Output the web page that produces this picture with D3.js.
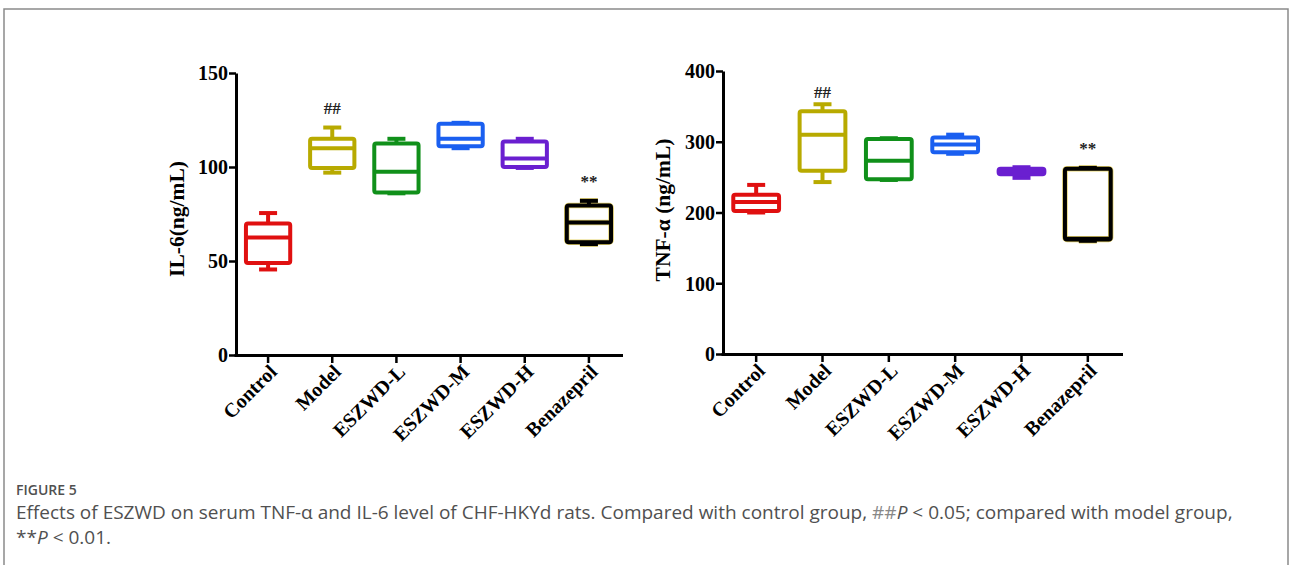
<!DOCTYPE html>
<html>
<head>
<meta charset="utf-8">
<script src="https://cdn.jsdelivr.net/npm/d3@7"></script>
<style>
	body { margin: 0; background: #fff; }
	svg { display: block; }
	.axis text { font-family: 'Liberation Serif', serif; font-weight: bold; font-size: 20px; fill: #000; }
	.axis path, .axis line { stroke: #000; }
	.caption { font-family: 'Open Sans', 'Noto Sans', sans-serif; fill: #505050; }
</style>
</head>
<body>
<svg id="fig" width="1290" height="565"></svg>
<script>
const groups = ['Control', 'Model', 'ESZWD-L', 'ESZWD-M', 'ESZWD-H', 'Benazepril'];
const colors = ['#e01010', '#b8aa00', '#10901a', '#1a5ff0', '#6a1fd0', '#000000'];

// [min, q1, median, q3, max]
const il6Box = [
	[45.5, 49, 62.5, 70, 75.5],
	[97, 99.5, 110, 115, 121],
	[86, 86.5, 97.5, 112.5, 115],
	[110, 111, 115, 123, 123.5],
	[99.5, 100, 104.5, 113.5, 115],
	[59, 60, 70.5, 79.5, 82],
];
const tnfBox = [
	[200, 202, 215, 225, 239],
	[243, 259, 310, 343, 353],
	[246, 247, 273, 304, 305],
	[283, 285, 296, 306, 310],
	[249, 254, 258.5, 262, 264],
	[160, 162, 163, 262, 263],
];
const il6Ticks = [0, 50, 100, 150];
const tnfTicks = [0, 100, 200, 300, 400];
// significance marks: group index, text, value at baseline
const il6Marks = [{ i: 1, text: '##', v: 128 }, { i: 5, text: '**', v: 89.5 }];
const tnfMarks = [{ i: 1, text: '##', v: 362 }, { i: 5, text: '**', v: 283 }];

const svg = d3.select('#fig');

// frame
svg.append('path')
	.attr('d', 'M4,570 V9 H1288 V570')
	.attr('fill', 'none')
	.attr('stroke', '#8a8a8a')
	.attr('stroke-width', 1.5);

function drawPanel(opt) {
	const x = d3.scaleBand().domain(groups).range(opt.xr);
	const y = d3.scaleLinear().domain([0, opt.max]).range(opt.yr);
	const g = svg.append('g');

	const yAxis = g.append('g')
		.attr('class', 'axis')
		.attr('transform', `translate(${opt.xr[0]},0)`)
		.call(d3.axisLeft(y).tickValues(opt.ticks).tickSize(7).tickSizeOuter(0).tickPadding(1));
	yAxis.select('.domain').attr('stroke-width', 3);
	yAxis.selectAll('.tick line').attr('stroke-width', 2.5);
	yAxis.selectAll('.tick text').attr('dy', '0.34em');

	const xAxis = g.append('g')
		.attr('class', 'axis')
		.attr('transform', `translate(0,${opt.yr[0]})`)
		.call(d3.axisBottom(x).tickSize(8).tickSizeOuter(0));
	xAxis.select('.domain').attr('stroke-width', 3).attr('d', `M${opt.xr[0] - 1.5},0.5H${opt.xr[1] + 2}`);
	xAxis.selectAll('.tick line').attr('stroke-width', 2.5);
	xAxis.selectAll('.tick text')
		.attr('y', 0)
		.attr('dy', 0)
		.attr('font-size', 20)
		.attr('text-anchor', 'end')
		.attr('transform', 'translate(10,18) rotate(-45)');

	g.append('text')
		.attr('transform', `translate(${opt.labelX},${opt.labelY}) rotate(-90)`)
		.attr('text-anchor', 'middle')
		.attr('font-family', 'Liberation Serif, serif')
		.attr('font-weight', 'bold')
		.attr('font-size', 21.5)
		.text(opt.label);

	const bw = x.bandwidth() * 0.69;
	const cap = 18;
	const boxes = g.selectAll('.box').data(opt.data).enter().append('g')
		.attr('transform', (d, i) => `translate(${x(groups[i]) + x.bandwidth() / 2},0)`);

	const drawBox = (sel, stroke, sw) => {
		sel.append('line').attr('x1', 0).attr('x2', 0).attr('y1', (d) => y(d[4])).attr('y2', (d) => y(d[3]))
			.attr('stroke', stroke).attr('stroke-width', sw);
		sel.append('line').attr('x1', 0).attr('x2', 0).attr('y1', (d) => y(d[1])).attr('y2', (d) => y(d[0]))
			.attr('stroke', stroke).attr('stroke-width', sw);
		sel.append('line').attr('x1', -cap / 2).attr('x2', cap / 2).attr('y1', (d) => y(d[4])).attr('y2', (d) => y(d[4]))
			.attr('stroke', stroke).attr('stroke-width', sw);
		sel.append('line').attr('x1', -cap / 2).attr('x2', cap / 2).attr('y1', (d) => y(d[0])).attr('y2', (d) => y(d[0]))
			.attr('stroke', stroke).attr('stroke-width', sw);
		sel.append('rect')
			.attr('x', -bw / 2).attr('width', bw)
			.attr('y', (d) => y(d[3])).attr('height', (d) => y(d[1]) - y(d[3]))
			.attr('rx', 2)
			.attr('fill', 'none').attr('stroke', stroke).attr('stroke-width', sw);
		sel.append('line').attr('x1', -bw / 2).attr('x2', bw / 2).attr('y1', (d) => y(d[2])).attr('y2', (d) => y(d[2]))
			.attr('stroke', stroke).attr('stroke-width', sw);
	};

	// yellow halo under the black box
	drawBox(boxes.filter((d, i) => i === 5), '#e6d36a', 5.5);
	boxes.each(function (d, i) {
		drawBox(d3.select(this), colors[i], 4);
	});

	g.selectAll('.mark').data(opt.marks).enter().append('text')
		.attr('x', (d) => x(groups[d.i]) + x.bandwidth() / 2)
		.attr('y', (d) => y(d.v))
		.attr('text-anchor', 'middle')
		.attr('font-family', 'Liberation Serif, serif')
		.attr('font-weight', 'bold')
		.attr('font-size', 17)
		.attr('fill', '#222')
		.text((d) => d.text);
}

drawPanel({ xr: [236, 621], yr: [355, 73], max: 150, ticks: il6Ticks, data: il6Box, marks: il6Marks, label: 'IL-6(ng/mL)', labelX: 184, labelY: 219 });
drawPanel({ xr: [723, 1121], yr: [354, 71], max: 400, ticks: tnfTicks, data: tnfBox, marks: tnfMarks, label: 'TNF-α (ng/mL)', labelX: 670, labelY: 210 });

// caption
svg.append('text').attr('class', 'caption')
	.attr('x', 16).attr('y', 495)
	.attr('font-size', 14).attr('font-weight', 600).attr('fill', '#666')
	.text('FIGURE 5');

const line1 = svg.append('text').attr('class', 'caption').attr('x', 16).attr('y', 519).attr('font-size', 19);
line1.append('tspan').text('Effects of ESZWD on serum TNF-α and IL-6 level of CHF-HKYd rats. Compared with control group, ');
line1.append('tspan').attr('fill', '#888').text('##');
line1.append('tspan').attr('font-style', 'italic').text('P');
line1.append('tspan').text(' < 0.05; compared with model group,');

const line2 = svg.append('text').attr('class', 'caption').attr('x', 16).attr('y', 544).attr('font-size', 19);
line2.append('tspan').text('**');
line2.append('tspan').attr('font-style', 'italic').text('P');
line2.append('tspan').text(' < 0.01.');
</script>
</body>
</html>
